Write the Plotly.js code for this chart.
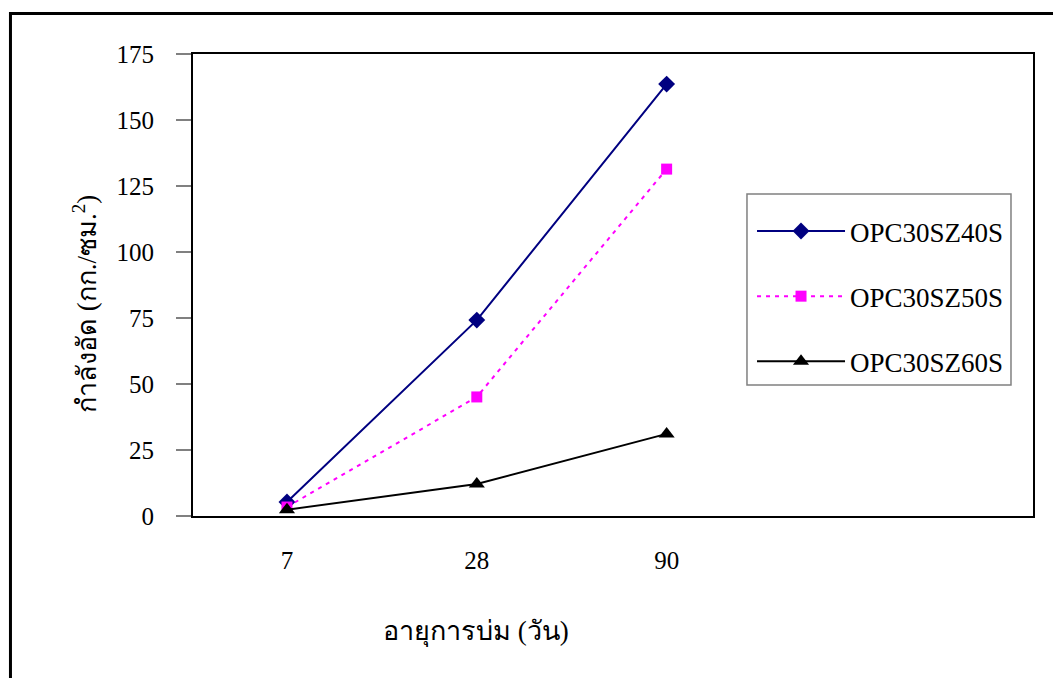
<!DOCTYPE html>
<html>
<head>
<meta charset="utf-8">
<script src="https://cdn.plot.ly/plotly-3.0.1.min.js"></script>
<style>
  html, body { margin: 0; padding: 0; background: #ffffff; }
  #chart { width: 1053px; height: 678px; }
</style>
</head>
<body>
<div id="chart"></div>
<script>
const categories = ["7", "28", "90"];
const seriesNames = ["OPC30SZ40S", "OPC30SZ50S", "OPC30SZ60S"];
const opc40 = [5.3, 74.2, 163.6];
const opc50 = [3.4, 45.1, 131.4];
const opc60 = [2.4, 12.1, 31.1];
const yTicks = [0, 25, 50, 75, 100, 125, 150, 175];
const xTitle = "อายุการบ่ม (วัน)";
const yTitle = "กำลังอัด (กก./ซม.<sup>2</sup>)";

const serif = "'Liberation Serif', 'Times New Roman', serif";

const traces = [
  {
    x: categories, y: opc40, name: seriesNames[0], type: "scatter", mode: "lines+markers",
    legendgroup: "a",
    line: { color: "#000080", width: 2 },
    marker: { symbol: "diamond", size: 13, color: "#000080" }
  },
  {
    x: categories, y: opc50, name: seriesNames[1], type: "scatter", mode: "lines+markers",
    legendgroup: "b",
    line: { color: "#FF00FF", width: 2, dash: "4px,5px" },
    marker: { symbol: "square", size: 11, color: "#FF00FF" }
  },
  {
    x: categories, y: opc60, name: seriesNames[2], type: "scatter", mode: "lines+markers",
    legendgroup: "c",
    line: { color: "#000000", width: 2 },
    marker: { symbol: "triangle-up", size: 14, color: "#000000" }
  }
];

const layout = {
  width: 1053, height: 678,
  margin: { l: 193, r: 20, t: 54, b: 162 },
  paper_bgcolor: "#ffffff",
  plot_bgcolor: "#ffffff",
  font: { family: serif, color: "#000000", size: 25 },
  showlegend: true,
  legend: {
    x: 0.6655, y: 0.6688, xanchor: "left", yanchor: "top",
    bgcolor: "rgba(0,0,0,0)", borderwidth: 0,
    font: { family: serif, size: 27, color: "#000000" },
    tracegroupgap: 27,
    traceorder: "grouped",
    itemwidth: 88
  },
  xaxis: {
    type: "category",
    range: [-0.495, 3.93],
    tickvals: categories,
    ticktext: categories,
    showgrid: false, zeroline: false,
    showline: true, linecolor: "#000000", linewidth: 2, mirror: true,
    ticks: "", ticklabelstandoff: 21,
    tickfont: { family: serif, size: 25 },
    automargin: false
  },
  yaxis: {
    range: [0, 175],
    tickvals: yTicks,
    showgrid: false, zeroline: false,
    showline: true, linecolor: "#000000", linewidth: 2, mirror: true,
    ticks: "outside", ticklen: 15, tickwidth: 1.5, tickcolor: "#808080",
    ticklabelstandoff: 17,
    tickfont: { family: serif, size: 25 },
    automargin: false
  },
  annotations: [
    {
      text: xTitle, xref: "paper", yref: "paper",
      x: 0.3369, y: -0.2511, xanchor: "center", yanchor: "middle",
      showarrow: false, font: { family: serif, size: 27, color: "#000000" }
    },
    {
      text: yTitle, xref: "paper", yref: "paper",
      x: -0.1286, y: 0.4589, xanchor: "center", yanchor: "middle",
      textangle: -90,
      showarrow: false, font: { family: serif, size: 27, color: "#000000" }
    }
  ],
  shapes: [
    {
      type: "rect", xref: "paper", yref: "paper",
      x0: -0.2173, x1: 1.2, y0: -0.5, y1: 1.0877,
      line: { color: "#000000", width: 3 },
      fillcolor: "rgba(0,0,0,0)", layer: "below"
    },
    {
      type: "rect", xref: "paper", yref: "paper",
      x0: 0.6595, x1: 0.9738, y0: 0.2835, y1: 0.697,
      line: { color: "#808080", width: 1.5 },
      fillcolor: "#ffffff", layer: "below"
    }
  ]
};

Plotly.newPlot("chart", traces, layout, { displayModeBar: false, staticPlot: true });
</script>
</body>
</html>
